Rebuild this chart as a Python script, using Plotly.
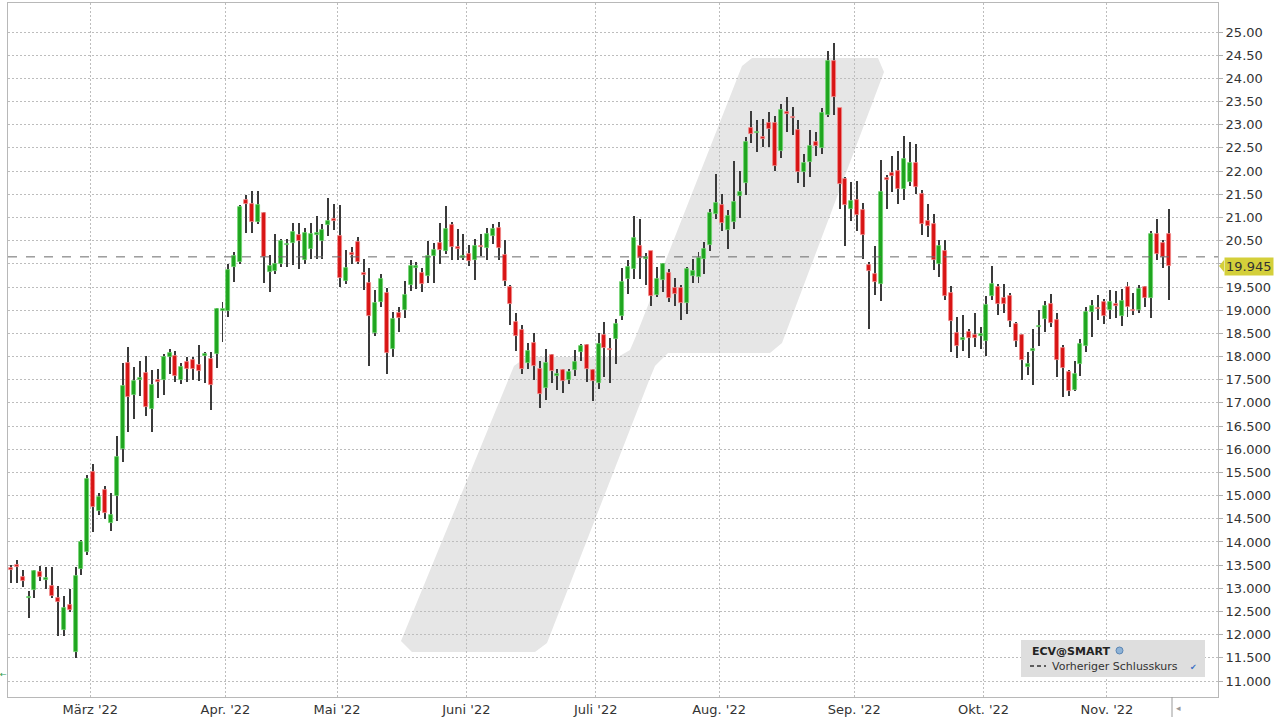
import plotly.graph_objects as go

# ---------------- data ----------------
opens = [13.43, 13.49, 13.24, 12.79, 12.96, 13.35, 13.19, 13.05, 12.80, 12.11,
         12.63, 11.62, 13.41, 13.79, 15.50, 14.66, 15.13, 14.40, 14.99, 16.00,
         17.87, 17.17, 17.51, 17.65, 16.86, 17.48, 17.50, 18.00, 18.02, 17.50,
         17.89, 17.93, 17.81, 18.02, 17.94, 18.05, 18.99, 18.98, 19.93, 20.05,
         21.38, 21.28, 20.90, 21.10, 19.82, 19.85, 19.99, 20.41, 20.45, 20.62,
         20.09, 20.32, 20.63, 20.49, 20.83, 20.95, 20.59, 19.63, 20.23, 20.47,
         19.80, 19.59, 18.51, 19.18, 19.38, 18.17, 18.93, 19.01, 19.54, 19.92,
         19.80, 19.73, 20.17, 20.44, 20.27, 20.83, 20.35, 20.14, 20.21, 20.08,
         20.38, 20.35, 20.60, 20.78, 20.19, 19.50, 18.75, 18.58, 17.85, 18.30,
         17.74, 17.33, 18.03, 17.58, 17.70, 17.50, 17.70, 18.09, 18.24, 17.70,
         17.43, 18.47, 18.16, 18.37, 18.87, 19.68, 19.89, 20.39, 20.11, 20.28,
         19.33, 19.65, 19.80, 19.47, 19.47, 19.16, 19.74, 19.72, 20.10, 20.41,
         21.08, 21.27, 20.73, 20.91, 21.47, 21.74, 22.92, 22.82, 22.72, 23.03,
         23.03, 22.44, 23.26, 23.17, 22.89, 21.99, 22.19, 22.62, 22.49, 23.21,
         24.38, 23.36, 21.82, 21.19, 21.38, 21.17, 19.97, 19.79, 19.56, 21.84,
         21.96, 22.01, 21.62, 21.77, 22.18, 21.51, 20.92, 20.85, 20.00, 20.28,
         19.37, 18.51, 18.37, 18.54, 18.46, 18.45, 18.33, 19.31, 19.51, 19.26,
         19.30, 18.71, 18.46, 17.77, 18.13, 18.64, 18.80, 19.13, 18.78, 18.19,
         17.67, 17.27, 17.83, 18.23, 18.96, 19.05, 19.18, 19.01, 19.14, 18.87,
         19.49, 19.00, 19.00, 19.49, 19.27, 20.64, 20.45, 20.64]
highs = [13.51, 13.61, 13.40, 12.95, 13.40, 13.49, 13.45, 13.45, 13.05, 12.84,
         12.99, 13.45, 14.05, 15.44, 15.68, 15.05, 15.20, 15.05, 16.29, 17.87,
         18.20, 17.77, 17.90, 18.02, 17.71, 17.73, 18.06, 18.16, 18.13, 17.86,
         17.99, 17.99, 18.25, 18.10, 18.10, 19.05, 19.18, 19.99, 20.26, 21.26,
         21.48, 21.57, 21.57, 21.12, 20.18, 20.65, 20.54, 20.54, 20.89, 20.87,
         20.78, 20.87, 21.03, 20.85, 21.43, 21.30, 21.26, 20.29, 20.36, 20.58,
         20.11, 19.90, 19.43, 19.79, 19.48, 18.96, 19.07, 19.64, 20.09, 20.04,
         19.90, 20.50, 20.45, 20.88, 21.24, 20.91, 20.76, 20.64, 20.40, 20.53,
         20.65, 20.78, 20.86, 20.91, 20.51, 19.54, 18.94, 18.68, 18.29, 18.50,
         17.91, 18.17, 18.06, 17.74, 17.74, 17.74, 18.14, 18.27, 18.27, 17.74,
         18.50, 18.75, 18.39, 18.82, 19.90, 20.08, 21.03, 20.97, 20.24, 20.28,
         19.94, 20.01, 19.88, 19.69, 19.54, 19.94, 20.10, 20.26, 20.46, 21.18,
         21.94, 21.51, 21.16, 22.21, 22.01, 22.74, 23.30, 23.10, 23.12, 23.28,
         23.18, 23.45, 23.59, 23.39, 23.10, 22.36, 22.89, 22.85, 23.36, 24.60,
         24.77, 23.36, 21.88, 21.76, 21.78, 21.31, 20.03, 20.39, 22.23, 21.92,
         22.32, 22.43, 22.75, 22.63, 22.59, 21.59, 21.28, 21.08, 20.51, 20.51,
         19.53, 18.85, 18.90, 18.59, 18.94, 18.64, 19.31, 19.95, 19.57, 19.57,
         19.36, 18.74, 18.49, 18.09, 18.59, 19.00, 19.19, 19.35, 18.94, 18.24,
         17.71, 17.91, 18.37, 19.07, 19.23, 19.32, 19.25, 19.43, 19.42, 19.45,
         19.61, 19.37, 19.54, 19.52, 20.71, 20.96, 20.51, 21.19]
lows = [13.11, 13.11, 13.02, 12.37, 12.79, 13.15, 12.99, 12.79, 11.98, 11.98,
        12.50, 11.50, 13.29, 13.71, 14.21, 14.58, 14.50, 14.23, 14.46, 15.72,
        16.37, 16.65, 17.14, 16.71, 16.37, 17.11, 17.16, 17.63, 17.45, 17.41,
        17.45, 17.50, 17.48, 17.43, 16.85, 17.76, 18.31, 18.85, 19.61, 20.00,
        20.67, 20.67, 20.85, 19.59, 19.39, 19.77, 19.93, 19.93, 19.97, 19.88,
        19.99, 20.11, 20.11, 20.11, 20.61, 20.74, 19.50, 19.57, 19.99, 19.99,
        19.43, 17.79, 18.45, 19.07, 17.62, 17.99, 18.53, 18.84, 19.42, 19.46,
        19.39, 19.59, 19.59, 20.00, 20.22, 20.08, 20.08, 20.09, 19.95, 19.66,
        20.17, 20.08, 20.42, 20.09, 19.52, 18.68, 18.12, 17.62, 17.73, 17.49,
        16.88, 17.06, 17.44, 17.27, 17.21, 17.41, 17.58, 17.91, 17.45, 17.04,
        17.29, 17.56, 17.43, 17.83, 18.78, 19.35, 19.68, 19.68, 19.54, 19.09,
        19.29, 19.40, 19.18, 19.08, 18.79, 18.91, 19.59, 19.58, 19.79, 20.28,
        20.97, 20.71, 20.31, 20.75, 20.98, 21.49, 22.60, 22.42, 22.53, 22.53,
        22.01, 22.28, 22.85, 22.78, 21.74, 21.66, 21.88, 22.33, 22.37, 23.16,
        23.21, 21.18, 20.39, 20.92, 20.70, 20.10, 18.59, 19.32, 19.19, 21.19,
        21.54, 21.29, 21.38, 21.67, 21.51, 20.63, 20.58, 19.86, 19.72, 19.23,
        18.10, 17.97, 18.11, 17.97, 18.20, 18.16, 18.02, 19.22, 18.90, 18.95,
        18.64, 18.20, 17.49, 17.61, 17.38, 18.22, 18.53, 18.63, 17.56, 17.13,
        17.15, 17.25, 17.58, 18.10, 18.42, 18.78, 18.70, 18.80, 18.84, 18.65,
        18.86, 18.89, 18.94, 19.07, 18.84, 20.08, 19.90, 19.22]
closes = [13.41, 13.47, 13.15, 12.81, 13.38, 13.25, 13.21, 12.84, 12.71, 12.58,
          12.53, 13.27, 14.00, 15.35, 14.75, 14.96, 14.62, 14.58, 15.84, 17.37,
          17.13, 17.48, 17.53, 16.91, 17.39, 17.46, 17.99, 18.08, 17.59, 17.77,
          17.73, 17.73, 17.68, 18.04, 17.38, 19.03, 19.01, 19.87, 20.16, 21.23,
          21.30, 20.90, 21.26, 20.15, 19.95, 20.00, 20.49, 20.43, 20.69, 20.49,
          20.67, 20.65, 20.65, 20.72, 20.92, 20.93, 19.70, 19.90, 20.20, 20.05,
          19.76, 18.87, 19.16, 19.68, 18.08, 18.82, 18.84, 19.33, 19.96, 19.94,
          19.56, 20.17, 20.30, 20.29, 20.75, 20.37, 20.32, 20.16, 20.06, 20.38,
          20.36, 20.64, 20.75, 20.35, 19.63, 19.13, 18.45, 17.73, 18.12, 17.79,
          17.20, 17.85, 17.68, 17.63, 17.47, 17.67, 17.88, 18.22, 17.73, 17.47,
          18.28, 18.19, 18.14, 18.71, 19.61, 19.94, 20.55, 20.12, 20.13, 19.31,
          19.67, 19.99, 19.26, 19.34, 19.16, 19.88, 19.85, 20.12, 20.32, 21.09,
          21.31, 20.87, 21.04, 21.34, 21.56, 22.62, 22.79, 22.84, 22.70, 22.91,
          22.10, 23.32, 23.24, 23.15, 21.99, 22.18, 22.54, 22.54, 23.25, 24.38,
          23.59, 21.72, 21.27, 21.36, 21.05, 20.62, 19.85, 19.61, 21.56, 21.82,
          21.89, 21.62, 22.27, 22.18, 21.65, 20.85, 20.82, 20.08, 20.38, 19.31,
          18.77, 18.23, 18.39, 18.40, 18.40, 18.47, 19.12, 19.57, 19.13, 19.13,
          18.76, 18.33, 17.93, 17.84, 18.15, 18.66, 19.09, 18.73, 17.92, 17.76,
          17.26, 17.63, 18.27, 18.96, 19.09, 19.03, 18.87, 19.18, 19.09, 19.20,
          19.07, 18.98, 19.45, 19.27, 20.64, 20.21, 20.15, 19.945]

month_labels = ["März '22", "Apr. '22", "Mai '22", "Juni '22", "Juli '22",
                "Aug. '22", "Sep. '22", "Okt. '22", "Nov. '22"]
month_start_idx = [14, 37, 56, 78, 100, 121, 144, 166, 187]

prev_close = 20.15
last_price = 19.945
symbol_name = "ECV@SMART"
prev_close_label = "Vorheriger Schlusskurs"

y_ticks = [11.0 + 0.5 * k for k in range(29)]

# ---------------- styling helpers ----------------
W, H = 1280, 720
PL, PR, PT, PB = 8, 1218, 3, 697


def pxx(x):
    return (x - PL) / (PR - PL)


def pxy(y):
    return (PB - y) / (PB - PT)


FONT = "DejaVu Sans, Verdana, sans-serif"
GREEN, GREEN_L = "#1fa51f", "#6fd46f"
RED, RED_L = "#d81414", "#f28a8a"
GRID = "#bdbdbd"

idx = list(range(len(closes)))
MIN_BODY = 0.035

up_x, up_base, up_h = [], [], []
dn_x, dn_base, dn_h = [], [], []
for i, o, c in zip(idx, opens, closes):
    lo, hi = min(o, c), max(o, c)
    h = max(hi - lo, MIN_BODY)
    b = (lo + hi) / 2 - h / 2
    if c >= o:
        up_x.append(i); up_base.append(b); up_h.append(h)
    else:
        dn_x.append(i); dn_base.append(b); dn_h.append(h)

fig = go.Figure()
fig.add_trace(go.Bar(x=idx, y=[h - l for h, l in zip(highs, lows)], base=lows,
                     width=0.17, marker=dict(color="#3a3a3a", line=dict(width=0)),
                     hoverinfo="skip", showlegend=False))
fig.add_trace(go.Bar(x=up_x, y=up_h, base=up_base, width=0.68,
                     marker=dict(color=GREEN, line=dict(color=GREEN_L, width=0.8)),
                     showlegend=False))
fig.add_trace(go.Bar(x=dn_x, y=dn_h, base=dn_base, width=0.68,
                     marker=dict(color=RED, line=dict(color=RED_L, width=0.8)),
                     showlegend=False))

ytext = []
for v in y_ticks:
    if abs(v - 20.0) < 1e-9:
        ytext.append("")
    elif v > 20:
        ytext.append(f"{v:.2f}")
    else:
        ytext.append(f"{v:.3f}")

shapes = []
# watermark logo (light grey slanted shape)
logo = [(412, 652), (535, 652), (547, 643), (650, 378), (655, 366), (668, 353),
        (770, 353), (782, 343), (884, 72), (878, 58), (752, 58), (742, 66),
        (636, 336), (630, 350), (618, 357), (526, 357), (514, 366), (401, 641)]
path = "M " + " L ".join(f"{pxx(x):.5f},{pxy(y):.5f}" for x, y in logo) + " Z"
shapes.append(dict(type="path", path=path, xref="paper", yref="paper",
                   fillcolor="#e6e6e6", line=dict(width=0), layer="below"))
# previous close line
shapes.append(dict(type="line", xref="paper", x0=0, x1=1, yref="y",
                   y0=prev_close, y1=prev_close,
                   line=dict(color="#6a6a6a", width=1, dash="dash")))
# last price pointer
shapes.append(dict(type="path", xref="paper", yref="paper",
                   path=f"M {pxx(1219):.5f},{pxy(266):.5f} L {pxx(1224):.5f},{pxy(260):.5f} "
                        f"L {pxx(1224):.5f},{pxy(272):.5f} Z",
                   fillcolor="#d4cf3a", line=dict(width=0)))
# legend box
shapes.append(dict(type="rect", xref="paper", yref="paper",
                   x0=pxx(1021), x1=pxx(1205), y0=pxy(640), y1=pxy(677),
                   fillcolor="#dedede", line=dict(width=0)))
shapes.append(dict(type="line", xref="paper", yref="paper",
                   x0=pxx(1030), x1=pxx(1046), y0=pxy(666), y1=pxy(666),
                   line=dict(color="#333333", width=1.5, dash="4px,3px")))
shapes.append(dict(type="circle", xref="paper", yref="paper",
                   x0=pxx(1116), x1=pxx(1123), y0=pxy(654), y1=pxy(647),
                   fillcolor="#8fb3d6", line=dict(color="#5b86b5", width=1)))
# end separator below axis
shapes.append(dict(type="line", xref="paper", yref="paper",
                   x0=pxx(1172), x1=pxx(1172), y0=pxy(697), y1=pxy(717),
                   line=dict(color="#9a9a9a", width=1)))

annotations = [
    dict(xref="paper", yref="y", x=pxx(1224), y=last_price, xanchor="left",
         yanchor="middle", text=f"{last_price:.3f}", showarrow=False,
         bgcolor="#d4cf3a", borderpad=1,
         font=dict(family=FONT, size=13, color="#333333")),
    dict(xref="paper", yref="paper", x=pxx(1030), y=pxy(651), xanchor="left",
         yanchor="middle", text=f"<b>{symbol_name}</b>", showarrow=False,
         font=dict(family=FONT, size=11, color="#222222")),
    dict(xref="paper", yref="paper", x=pxx(1050), y=pxy(666), xanchor="left",
         yanchor="middle", text=prev_close_label, showarrow=False,
         font=dict(family=FONT, size=11, color="#333333")),
    dict(xref="paper", yref="paper", x=pxx(1193), y=pxy(667), xanchor="center",
         yanchor="middle", text="✔", showarrow=False,
         font=dict(family=FONT, size=8, color="#3a6fc4")),
    dict(xref="paper", yref="paper", x=pxx(1178), y=pxy(708), xanchor="center",
         yanchor="middle", text="◂", showarrow=False,
         font=dict(family=FONT, size=9, color="#9a9a9a")),
    dict(xref="paper", yref="paper", x=pxx(3), y=pxy(674), xanchor="center",
         yanchor="middle", text="←", showarrow=False,
         font=dict(family=FONT, size=8, color="#2a9a4a")),
]

fig.update_layout(
    width=W, height=H, autosize=False,
    margin=dict(l=PL, r=W - PR, t=PT, b=H - PB, pad=0),
    paper_bgcolor="white", plot_bgcolor="white",
    barmode="overlay", bargap=0, showlegend=False,
    font=dict(family=FONT, size=13, color="#333333"),
    shapes=shapes, annotations=annotations,
    xaxis=dict(range=[-0.5, 205.4], tickmode="array",
               tickvals=[m - 0.5 for m in month_start_idx], ticktext=month_labels,
               showgrid=True, gridcolor=GRID, griddash="2px,2px", gridwidth=1,
               showline=True, linecolor="#b8b8b8", mirror=True, ticks="",
               zeroline=False, tickfont=dict(family=FONT, size=13, color="#333333")),
    yaxis=dict(range=[10.656, 25.626], side="right", tickmode="array",
               tickvals=y_ticks, ticktext=ytext,
               showgrid=True, gridcolor=GRID, griddash="2px,2px", gridwidth=1,
               showline=True, linecolor="#b8b8b8", mirror=True,
               ticks="outside", ticklen=4, tickcolor="#b0b0b0",
               zeroline=False, tickfont=dict(family=FONT, size=13, color="#333333")),
)

fig.write_html("out.html", config={"displayModeBar": False},
               post_script="document.body.style.margin='0';")
